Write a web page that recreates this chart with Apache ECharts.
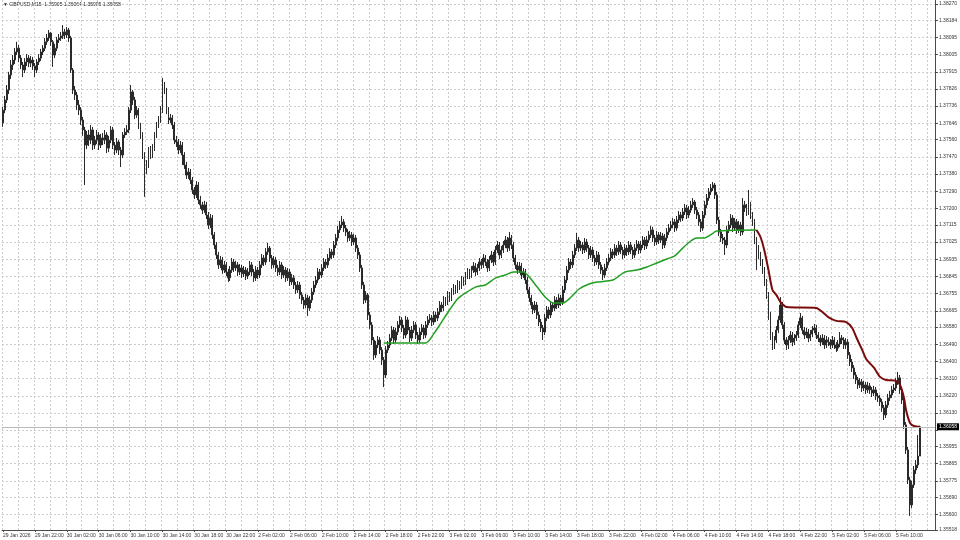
<!DOCTYPE html>
<html><head><meta charset="utf-8">
<script src="https://cdn.jsdelivr.net/npm/echarts@6/dist/echarts.min.js"></script>
<style>html,body{margin:0;padding:0;background:#fff}#c{width:960px;height:540px}</style>
</head><body><div id="c"></div>
<script>
const SYMBOL = 'GBPUSD,M15';
const FIRST_OPEN = 1.37648;
const CLOSES = [
1.37715,1.37768,1.37820,1.37899,1.37951,1.37977,1.38019,1.38039,1.37987,1.37951,
1.37925,1.37967,1.37987,1.37961,1.37977,1.37946,1.37925,1.37967,1.37987,1.38019,
1.38039,1.38072,1.38092,1.38118,1.38072,1.38003,1.38039,1.38082,1.38092,1.38103,
1.38124,1.38108,1.38134,1.38092,1.37925,1.37820,1.37794,1.37742,1.37715,1.37663,
1.37611,1.37532,1.37585,1.37558,1.37611,1.37532,1.37558,1.37585,1.37532,1.37569,
1.37558,1.37585,1.37516,1.37558,1.37611,1.37532,1.37506,1.37548,1.37506,1.37480,
1.37585,1.37600,1.37611,1.37715,1.37810,1.37768,1.37689,1.37715,1.37637,1.37585,
1.37480,1.37402,1.37428,1.37506,1.37480,1.37516,1.37585,1.37637,1.37663,1.37715,
1.37846,1.37820,1.37715,1.37663,1.37674,1.37637,1.37558,1.37548,1.37506,1.37532,
1.37480,1.37428,1.37375,1.37391,1.37349,1.37297,1.37271,1.37323,1.37245,1.37219,
1.37192,1.37219,1.37166,1.37114,1.37150,1.37062,1.37009,1.36957,1.36905,1.36931,
1.36878,1.36905,1.36868,1.36837,1.36878,1.36920,1.36889,1.36905,1.36868,1.36889,
1.36858,1.36878,1.36847,1.36868,1.36905,1.36868,1.36837,1.36878,1.36852,1.36905,
1.36941,1.36920,1.36973,1.36993,1.36941,1.36905,1.36931,1.36889,1.36868,1.36905,
1.36852,1.36878,1.36837,1.36868,1.36816,1.36837,1.36800,1.36774,1.36800,1.36748,
1.36721,1.36695,1.36732,1.36679,1.36721,1.36763,1.36800,1.36826,1.36868,1.36852,
1.36889,1.36920,1.36905,1.36941,1.36973,1.36957,1.37009,1.37046,1.37088,1.37114,
1.37130,1.37098,1.37077,1.37046,1.37062,1.37025,1.37046,1.36993,1.36957,1.36889,
1.36800,1.36721,1.36748,1.36643,1.36591,1.36512,1.36434,1.36486,1.36512,1.36460,
1.36408,1.36329,1.36460,1.36486,1.36522,1.36564,1.36512,1.36554,1.36591,1.36617,
1.36575,1.36538,1.36617,1.36564,1.36522,1.36564,1.36591,1.36538,1.36512,1.36554,
1.36575,1.36538,1.36591,1.36617,1.36627,1.36606,1.36643,1.36627,1.36659,1.36695,
1.36679,1.36721,1.36711,1.36748,1.36732,1.36763,1.36784,1.36774,1.36805,1.36795,
1.36826,1.36816,1.36847,1.36868,1.36852,1.36878,1.36899,1.36868,1.36889,1.36920,
1.36905,1.36941,1.36920,1.36889,1.36931,1.36957,1.36920,1.36983,1.37009,1.36957,
1.36983,1.37009,1.37035,1.36993,1.37046,1.37009,1.36941,1.36905,1.36878,1.36899,
1.36852,1.36868,1.36826,1.36774,1.36732,1.36695,1.36669,1.36695,1.36643,1.36606,
1.36575,1.36554,1.36627,1.36669,1.36643,1.36695,1.36679,1.36721,1.36695,1.36732,
1.36711,1.36774,1.36826,1.36878,1.36920,1.36905,1.36957,1.36993,1.37035,1.36993,
1.37009,1.36983,1.37025,1.36993,1.36957,1.36983,1.36941,1.36920,1.36957,1.36905,
1.36878,1.36852,1.36889,1.36920,1.36941,1.36973,1.36957,1.36993,1.36973,1.37009,
1.36983,1.36957,1.36993,1.36973,1.37009,1.36983,1.36957,1.36993,1.37014,1.36983,
1.37009,1.37035,1.37004,1.37035,1.37062,1.37088,1.37046,1.37025,1.37062,1.37035,
1.37056,1.37009,1.37046,1.37077,1.37098,1.37114,1.37130,1.37098,1.37140,1.37166,
1.37150,1.37182,1.37203,1.37166,1.37192,1.37219,1.37234,1.37192,1.37166,1.37130,
1.37098,1.37166,1.37219,1.37255,1.37287,1.37307,1.37323,1.37271,1.37140,1.37077,
1.37046,1.37035,1.37009,1.37088,1.37114,1.37150,1.37098,1.37130,1.37088,1.37114,
1.37077,1.37219,1.37203,1.37182,1.37219,1.37166,1.37130,1.37035,1.36993,1.36957,
1.36920,1.36878,1.36816,1.36748,1.36643,1.36538,1.36486,1.36512,1.36564,1.36617,
1.36695,1.36591,1.36512,1.36486,1.36512,1.36538,1.36501,1.36522,1.36538,1.36591,
1.36627,1.36564,1.36538,1.36554,1.36522,1.36543,1.36564,1.36575,1.36538,1.36522,
1.36501,1.36522,1.36486,1.36512,1.36501,1.36486,1.36512,1.36486,1.36470,1.36491,
1.36522,1.36512,1.36486,1.36501,1.36434,1.36397,1.36366,1.36329,1.36303,1.36277,
1.36293,1.36261,1.36277,1.36251,1.36272,1.36251,1.36235,1.36251,1.36219,1.36209,
1.36188,1.36157,1.36120,1.36172,1.36209,1.36225,1.36251,1.36261,1.36293,1.36314,
1.36251,1.36198,1.36068,1.35937,1.35780,1.35649,1.35754,1.35832,1.35858,1.35905,
1.36058
];
const HIGHS = [
1.37731,1.37789,1.37846,1.37915,1.37977,1.38003,1.38040,1.38072,1.38055,1.38003,
1.37967,1.37987,1.38008,1.38003,1.37998,1.37993,1.37961,1.37982,1.38008,1.38035,
1.38055,1.38092,1.38113,1.38134,1.38124,1.38082,1.38061,1.38098,1.38113,1.38124,
1.38160,1.38140,1.38150,1.38145,1.38103,1.37935,1.37841,1.37810,1.37768,1.37731,
1.37679,1.37627,1.37606,1.37611,1.37637,1.37627,1.37580,1.37611,1.37600,1.37590,
1.37595,1.37611,1.37600,1.37580,1.37632,1.37627,1.37548,1.37569,1.37558,1.37522,
1.37600,1.37621,1.37637,1.37731,1.37846,1.37820,1.37784,1.37736,1.37726,1.37648,
1.37600,1.37495,1.37454,1.37522,1.37527,1.37537,1.37600,1.37653,1.37684,1.37736,
1.37883,1.37862,1.37831,1.37731,1.37695,1.37689,1.37653,1.37580,1.37564,1.37553,
1.37548,1.37495,1.37444,1.37412,1.37407,1.37365,1.37313,1.37344,1.37339,1.37266,
1.37235,1.37240,1.37235,1.37182,1.37171,1.37166,1.37077,1.37025,1.36973,1.36952,
1.36947,1.36926,1.36920,1.36884,1.36899,1.36941,1.36936,1.36926,1.36920,1.36910,
1.36905,1.36899,1.36894,1.36889,1.36926,1.36920,1.36884,1.36899,1.36894,1.36926,
1.36962,1.36957,1.36993,1.37020,1.37004,1.36957,1.36952,1.36947,1.36905,1.36926,
1.36920,1.36899,1.36894,1.36889,1.36884,1.36858,1.36852,1.36816,1.36821,1.36816,
1.36763,1.36737,1.36753,1.36748,1.36742,1.36784,1.36821,1.36847,1.36889,1.36884,
1.36910,1.36941,1.36936,1.36962,1.36993,1.36988,1.37030,1.37067,1.37109,1.37135,
1.37161,1.37145,1.37114,1.37093,1.37083,1.37077,1.37067,1.37062,1.37009,1.36973,
1.36905,1.36816,1.36768,1.36758,1.36659,1.36606,1.36527,1.36507,1.36533,1.36527,
1.36475,1.36423,1.36480,1.36507,1.36543,1.36585,1.36580,1.36575,1.36611,1.36638,
1.36632,1.36591,1.36638,1.36632,1.36580,1.36585,1.36611,1.36606,1.36554,1.36575,
1.36596,1.36591,1.36611,1.36638,1.36648,1.36643,1.36664,1.36659,1.36680,1.36716,
1.36711,1.36742,1.36737,1.36768,1.36763,1.36784,1.36805,1.36800,1.36826,1.36821,
1.36847,1.36842,1.36868,1.36889,1.36884,1.36899,1.36920,1.36915,1.36910,1.36941,
1.36936,1.36962,1.36957,1.36936,1.36952,1.36978,1.36973,1.37004,1.37030,1.37025,
1.37004,1.37030,1.37056,1.37051,1.37077,1.37062,1.37025,1.36957,1.36920,1.36920,
1.36915,1.36889,1.36884,1.36842,1.36790,1.36748,1.36711,1.36716,1.36711,1.36659,
1.36622,1.36591,1.36648,1.36690,1.36685,1.36716,1.36711,1.36742,1.36737,1.36753,
1.36748,1.36795,1.36847,1.36899,1.36941,1.36936,1.36978,1.37014,1.37072,1.37051,
1.37030,1.37025,1.37046,1.37041,1.37009,1.37004,1.36999,1.36957,1.36978,1.36973,
1.36920,1.36894,1.36910,1.36941,1.36962,1.36993,1.36988,1.37014,1.37009,1.37030,
1.37025,1.36999,1.37014,1.37009,1.37030,1.37025,1.36999,1.37014,1.37035,1.37030,
1.37030,1.37056,1.37051,1.37056,1.37083,1.37109,1.37104,1.37062,1.37083,1.37077,
1.37077,1.37072,1.37067,1.37098,1.37119,1.37135,1.37150,1.37145,1.37161,1.37187,
1.37182,1.37203,1.37224,1.37219,1.37213,1.37240,1.37255,1.37245,1.37208,1.37182,
1.37145,1.37187,1.37240,1.37276,1.37307,1.37328,1.37339,1.37334,1.37287,1.37156,
1.37093,1.37067,1.37051,1.37109,1.37135,1.37171,1.37166,1.37150,1.37145,1.37135,
1.37130,1.37255,1.37240,1.37224,1.37297,1.37235,1.37182,1.37145,1.37051,1.37009,
1.36973,1.36936,1.36894,1.36832,1.36763,1.36659,1.36554,1.36533,1.36585,1.36638,
1.36737,1.36711,1.36606,1.36527,1.36533,1.36559,1.36554,1.36543,1.36559,1.36611,
1.36653,1.36638,1.36580,1.36575,1.36570,1.36564,1.36585,1.36596,1.36591,1.36554,
1.36538,1.36543,1.36538,1.36533,1.36527,1.36517,1.36533,1.36527,1.36501,1.36512,
1.36554,1.36538,1.36527,1.36522,1.36517,1.36449,1.36413,1.36381,1.36345,1.36319,
1.36313,1.36308,1.36298,1.36293,1.36293,1.36287,1.36266,1.36272,1.36266,1.36235,
1.36225,1.36204,1.36172,1.36193,1.36230,1.36246,1.36272,1.36282,1.36313,1.36345,
1.36329,1.36266,1.36214,1.36083,1.35952,1.35796,1.35775,1.35853,1.35884,1.36015,
1.36064
];
const LOWS = [
1.37627,1.37699,1.37752,1.37799,1.37878,1.37925,1.37956,1.38003,1.37966,1.37930,
1.37888,1.37909,1.37946,1.37940,1.37940,1.37925,1.37888,1.37909,1.37951,1.37972,
1.38003,1.38024,1.38056,1.38077,1.38051,1.37941,1.37987,1.38024,1.38066,1.38077,
1.38087,1.38087,1.38092,1.38072,1.37909,1.37799,1.37768,1.37715,1.37689,1.37637,
1.37580,1.37323,1.37511,1.37527,1.37537,1.37506,1.37511,1.37537,1.37506,1.37516,
1.37532,1.37537,1.37490,1.37495,1.37542,1.37511,1.37480,1.37490,1.37480,1.37417,
1.37464,1.37569,1.37585,1.37595,1.37700,1.37742,1.37668,1.37674,1.37616,1.37564,
1.37459,1.37261,1.37381,1.37412,1.37459,1.37464,1.37501,1.37569,1.37621,1.37648,
1.37700,1.37799,1.37694,1.37642,1.37648,1.37616,1.37537,1.37522,1.37485,1.37490,
1.37428,1.37407,1.37355,1.37355,1.37328,1.37276,1.37250,1.37255,1.37224,1.37198,
1.37171,1.37177,1.37145,1.37093,1.37098,1.37041,1.36988,1.36936,1.36884,1.36889,
1.36858,1.36863,1.36847,1.36816,1.36821,1.36863,1.36868,1.36873,1.36847,1.36852,
1.36837,1.36842,1.36826,1.36831,1.36852,1.36847,1.36816,1.36821,1.36831,1.36837,
1.36889,1.36899,1.36905,1.36957,1.36920,1.36884,1.36889,1.36868,1.36847,1.36852,
1.36831,1.36837,1.36816,1.36821,1.36795,1.36800,1.36779,1.36753,1.36758,1.36727,
1.36700,1.36674,1.36679,1.36638,1.36664,1.36706,1.36748,1.36784,1.36810,1.36831,
1.36837,1.36873,1.36884,1.36889,1.36926,1.36936,1.36941,1.36993,1.37030,1.37072,
1.37098,1.37077,1.37056,1.37025,1.37030,1.37004,1.37009,1.36973,1.36936,1.36868,
1.36779,1.36700,1.36706,1.36617,1.36570,1.36486,1.36408,1.36418,1.36470,1.36439,
1.36381,1.36266,1.36313,1.36444,1.36470,1.36507,1.36491,1.36496,1.36538,1.36575,
1.36554,1.36517,1.36522,1.36543,1.36501,1.36507,1.36548,1.36517,1.36491,1.36496,
1.36538,1.36517,1.36522,1.36575,1.36601,1.36585,1.36591,1.36606,1.36611,1.36643,
1.36659,1.36664,1.36690,1.36695,1.36711,1.36716,1.36748,1.36753,1.36758,1.36774,
1.36779,1.36795,1.36800,1.36831,1.36831,1.36837,1.36863,1.36847,1.36852,1.36873,
1.36884,1.36889,1.36899,1.36868,1.36873,1.36915,1.36899,1.36905,1.36967,1.36936,
1.36941,1.36967,1.36993,1.36973,1.36978,1.36988,1.36920,1.36884,1.36858,1.36863,
1.36831,1.36837,1.36805,1.36753,1.36711,1.36674,1.36648,1.36653,1.36622,1.36585,
1.36554,1.36512,1.36538,1.36611,1.36622,1.36627,1.36659,1.36664,1.36674,1.36679,
1.36690,1.36695,1.36758,1.36810,1.36863,1.36884,1.36889,1.36941,1.36978,1.36973,
1.36978,1.36962,1.36967,1.36973,1.36936,1.36941,1.36920,1.36899,1.36905,1.36884,
1.36858,1.36826,1.36837,1.36873,1.36905,1.36926,1.36936,1.36941,1.36952,1.36957,
1.36962,1.36936,1.36941,1.36952,1.36957,1.36962,1.36936,1.36941,1.36978,1.36962,
1.36967,1.36993,1.36983,1.36988,1.37020,1.37046,1.37025,1.37004,1.37009,1.37014,
1.37020,1.36988,1.36993,1.37030,1.37062,1.37083,1.37098,1.37077,1.37083,1.37124,
1.37130,1.37135,1.37166,1.37145,1.37150,1.37177,1.37203,1.37171,1.37145,1.37109,
1.37077,1.37083,1.37150,1.37203,1.37240,1.37271,1.37292,1.37250,1.37119,1.37056,
1.37025,1.37014,1.36957,1.36993,1.37072,1.37098,1.37077,1.37083,1.37067,1.37072,
1.37056,1.37062,1.37182,1.37161,1.37166,1.37145,1.37109,1.37014,1.36878,1.36936,
1.36899,1.36858,1.36795,1.36727,1.36617,1.36512,1.36460,1.36465,1.36496,1.36548,
1.36601,1.36570,1.36491,1.36460,1.36465,1.36496,1.36480,1.36486,1.36507,1.36522,
1.36575,1.36543,1.36517,1.36522,1.36501,1.36507,1.36527,1.36548,1.36517,1.36501,
1.36480,1.36486,1.36465,1.36470,1.36480,1.36465,1.36470,1.36465,1.36449,1.36455,
1.36475,1.36491,1.36465,1.36465,1.36413,1.36376,1.36345,1.36308,1.36282,1.36256,
1.36261,1.36240,1.36245,1.36230,1.36235,1.36230,1.36214,1.36219,1.36198,1.36188,
1.36167,1.36136,1.36094,1.36104,1.36157,1.36193,1.36209,1.36235,1.36245,1.36277,
1.36230,1.36177,1.36047,1.35916,1.35759,1.35592,1.35633,1.35738,1.35811,1.35842,
1.35905
];
// indicator line, [bar index, value] vertices
const UP_LINE = [
[191,1.36496],[212,1.36496],[216,1.36543],[220,1.36606],[224,1.36669],[228,1.36727],[232,1.36758],
[237,1.36789],[242,1.36800],[247,1.36836],[252,1.36852],[256,1.36868],[261,1.36868],[264,1.36842],
[268,1.36789],[272,1.36737],[276,1.36706],[281,1.36706],[285,1.36737],[289,1.36779],[294,1.36805],
[298,1.36815],[306,1.36826],[309,1.36847],[312,1.36868],[318,1.36878],[323,1.36894],[328,1.36915],
[333,1.36936],[337,1.36952],[341,1.36993],[345,1.37030],[348,1.37046],[352,1.37046],[355,1.37062],
[358,1.37082],[378,1.37088]
];
const DOWN_LINE = [
[378,1.37088],[380,1.37051],[382,1.36978],[384,1.36878],[386,1.36774],[388,1.36747],[390,1.36711],
[393,1.36685],[408,1.36680],[411,1.36659],[414,1.36632],[418,1.36612],[423,1.36606],[426,1.36575],
[428,1.36528],[431,1.36460],[433,1.36413],[437,1.36366],[440,1.36319],[443,1.36303],[448,1.36298],
[450,1.36277],[452,1.36209],[453,1.36146],[455,1.36078],[457,1.36062],[460,1.36057]
];
const X_TICK_LABELS = ['29 Jan 2026','29 Jan 22:00','30 Jan 02:00','30 Jan 06:00','30 Jan 10:00','30 Jan 14:00',
'30 Jan 18:00','30 Jan 22:00','2 Feb 02:00','2 Feb 06:00','2 Feb 10:00','2 Feb 14:00','2 Feb 18:00',
'2 Feb 22:00','3 Feb 02:00','3 Feb 06:00','3 Feb 10:00','3 Feb 14:00','3 Feb 18:00','3 Feb 22:00',
'4 Feb 02:00','4 Feb 06:00','4 Feb 10:00','4 Feb 14:00','4 Feb 18:00','4 Feb 22:00','5 Feb 02:00',
'5 Feb 06:00','5 Feb 10:00'];
const BARS_PER_LABEL = 16;
const BARS_PER_GRID = 8;
const Y_TICKS = [1.38270,1.38184,1.38095,1.38005,1.37915,1.37826,1.37736,1.37646,1.37560,1.37470,
1.37380,1.37290,1.37200,1.37115,1.37025,1.36935,1.36845,1.36755,1.36665,1.36580,1.36490,1.36400,
1.36310,1.36220,1.36130,1.36040,1.35955,1.35865,1.35775,1.35690,1.35600,1.35518];
const Y_LABEL_HIDDEN = 1.36040; // covered by the price tag
const Y_MIN = 1.35518, Y_MAX = 1.38291;
const RIGHT_SHIFT_BARS = 7;

const FONT = 'Liberation Sans';
const n = CLOSES.length;
const categories = [];
for (let i = 0; i < n + RIGHT_SHIFT_BARS; i++) categories.push(String(i));
const candles = CLOSES.map((c, i) => [i === 0 ? FIRST_OPEN : CLOSES[i - 1], c, LOWS[i], HIGHS[i]]);
const last = candles[n - 1];
const LAST = CLOSES[n - 1];
const header = '\u25BC ' + SYMBOL + '  ' + [last[0], last[3], last[2], last[1]].map(v => v.toFixed(5)).join(' ');

const labelEvery = (idx) => idx % BARS_PER_LABEL === 0 && idx / BARS_PER_LABEL < X_TICK_LABELS.length;
const gridEvery = (idx) => idx % BARS_PER_GRID === 0;
const gridStyle = { color: '#cdcdcd', type: [2, 2], width: 1 };

const chart = echarts.init(document.getElementById('c'), null, { renderer: 'canvas' });
chart.setOption({
  animation: false,
  backgroundColor: '#ffffff',
  textStyle: { fontFamily: FONT },
  grid: { left: 0, right: 23, top: 0, bottom: 10, containLabel: false },
  graphic: [{
    type: 'text', left: 3, top: 2,
    style: { text: header, fontSize: 5, fill: '#222', fontFamily: FONT }
  }],
  xAxis: {
    type: 'category', data: categories, boundaryGap: true,
    axisLine: { show: true, lineStyle: { color: '#4a4a4a', width: 1 } },
    axisTick: { show: true, interval: labelEvery, length: 2, alignWithLabel: true, lineStyle: { color: '#4a4a4a' } },
    axisLabel: {
      interval: labelEvery, align: 'left', fontSize: 5, color: '#333', margin: 3, fontFamily: FONT,
      formatter: (v, idx) => X_TICK_LABELS[idx / BARS_PER_LABEL] || ''
    },
    splitLine: { show: true, interval: gridEvery, lineStyle: gridStyle }
  },
  yAxis: {
    type: 'value', position: 'right', min: Y_MIN, max: Y_MAX,
    axisLine: { show: true, lineStyle: { color: '#4a4a4a', width: 1 } },
    axisTick: { show: true, length: 3, customValues: Y_TICKS, lineStyle: { color: '#4a4a4a' } },
    axisLabel: {
      customValues: Y_TICKS.filter(v => v !== Y_LABEL_HIDDEN),
      formatter: v => Number(v).toFixed(5), fontSize: 5, color: '#333', margin: 4, fontFamily: FONT
    },
    splitLine: { show: true, lineStyle: gridStyle }
  },
  series: [
    {
      type: 'line', name: 'bid', data: [], symbol: 'none', silent: true,
      markLine: {
        silent: true, symbol: ['none', 'none'], animation: false, precision: 5,
        lineStyle: { color: '#b8b8b8', type: 'solid', width: 1 },
        label: {
          position: 'end', formatter: LAST.toFixed(5), backgroundColor: '#000', color: '#fff',
          fontSize: 5, padding: [1, 2], distance: 2, fontFamily: FONT
        },
        data: [{ yAxis: LAST }]
      }
    },
    {
      type: 'candlestick', name: SYMBOL, data: candles, barWidth: 1.4,
      itemStyle: { color: '#666666', color0: '#666666', borderColor: '#2a2a2a', borderColor0: '#2a2a2a', borderWidth: 1 }
    },
    {
      type: 'line', name: 'up', data: UP_LINE, symbol: 'none', smooth: 0.25,
      lineStyle: { color: '#1f9e1f', width: 1.5 }
    },
    {
      type: 'line', name: 'down', data: DOWN_LINE, symbol: 'none', smooth: 0.25,
      lineStyle: { color: '#7a0b0b', width: 2 }
    }
  ]
});
</script>
</body></html>
